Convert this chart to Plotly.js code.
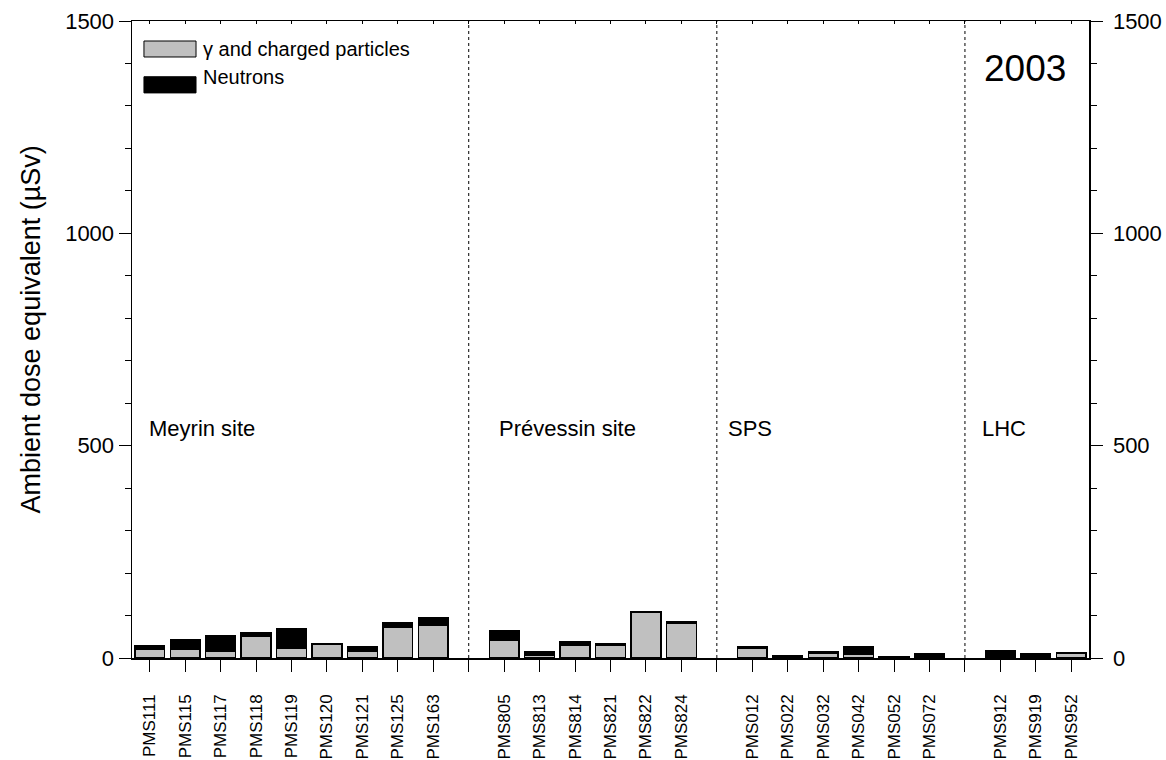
<!DOCTYPE html>
<html>
<head>
<meta charset="utf-8">
<script src="https://cdn.plot.ly/plotly-3.0.1.min.js"></script>
<style>html,body{margin:0;padding:0;background:#fff;}#chart{width:1166px;height:760px;}</style>
</head>
<body>
<div id="chart"></div>
<script>
// ---- data ----
var siteNames = ['Meyrin site', 'Prévessin site', 'SPS', 'LHC'];
var meyrinStations = ['PMS111','PMS115','PMS117','PMS118','PMS119','PMS120','PMS121','PMS125','PMS163'];
var meyrinGamma    = [20, 20, 15, 52, 24, 32, 15, 73, 77];
var meyrinNeutron  = [10, 23, 38, 8, 45, 1.5, 12, 9, 18];
var prevessinStations = ['PMS805','PMS813','PMS814','PMS821','PMS822','PMS824'];
var prevessinGamma    = [41, 6, 30, 29, 108, 82];
var prevessinNeutron  = [23, 9, 8, 4, 2, 3];
var spsStations = ['PMS012','PMS022','PMS032','PMS042','PMS052','PMS072'];
var spsGamma    = [24, 4, 11, 8, 0, 0];
var spsNeutron  = [3, 2, 3, 19, 3, 11];
var lhcStations = ['PMS912','PMS919','PMS952'];
var lhcGamma    = [0, 0, 11];
var lhcNeutron  = [17, 9, 1];
var yearLabel = '2003';
var gammaName = 'γ and charged particles';
var neutronName = 'Neutrons';

// ---- build positions (one empty slot between sites holds the divider) ----
var groups = [
  {st: meyrinStations, g: meyrinGamma, n: meyrinNeutron},
  {st: prevessinStations, g: prevessinGamma, n: prevessinNeutron},
  {st: spsStations, g: spsGamma, n: spsNeutron},
  {st: lhcStations, g: lhcGamma, n: lhcNeutron}
];
var xs = [], gammaVals = [], neutronVals = [], tickvals = [], ticktext = [], dividers = [], groupStart = [];
var pos = 1;
groups.forEach(function (grp, gi) {
  groupStart.push(pos);
  grp.st.forEach(function (s, i) {
    xs.push(pos); gammaVals.push(grp.g[i]); neutronVals.push(grp.n[i]);
    tickvals.push(pos); ticktext.push(s);
    pos++;
  });
  if (gi < groups.length - 1) {
    dividers.push(pos); tickvals.push(pos); ticktext.push('');
    pos++;
  }
});
var xRange = [0.5, pos - 0.5];
var yRange = [0, 1500];

var FONT = 'Liberation Sans, Arial, Helvetica, sans-serif';

var traces = [
  {type: 'bar', x: xs, y: gammaVals, name: gammaName, width: 0.84,
   marker: {color: '#c0c0c0', line: {color: '#000', width: 1.5}},
   showlegend: false, hoverinfo: 'x+y'},
  {type: 'bar', x: xs, y: neutronVals, name: neutronName, width: 0.84,
   marker: {color: '#000', line: {color: '#000', width: 1.5}},
   showlegend: false, hoverinfo: 'x+y'},
  {type: 'scatter', x: [xs[0]], y: [0], xaxis: 'x2', yaxis: 'y2', mode: 'markers',
   marker: {opacity: 0}, showlegend: false, hoverinfo: 'skip'}
];

var shapes = dividers.map(function (d) {
  return {type: 'line', xref: 'x', yref: 'paper', x0: d, x1: d, y0: 0, y1: 1,
          line: {color: '#000', width: 1, dash: 'dot'}};
});
// legend swatches
shapes.push({type: 'rect', xref: 'paper', yref: 'paper', x0: 0.0125, x1: 0.0669, y0: 0.9435, y1: 0.9686,
             fillcolor: '#c0c0c0', line: {color: '#000', width: 1}});
shapes.push({type: 'rect', xref: 'paper', yref: 'paper', x0: 0.0125, x1: 0.0669, y0: 0.8871, y1: 0.9125,
             fillcolor: '#000', line: {color: '#000', width: 1}});

var siteOffsets = [-0.08, -0.2, -0.74, -0.57];
var annotations = siteNames.map(function (nm, i) {
  return {text: nm, xref: 'x', yref: 'y', x: groupStart[i] + siteOffsets[i], y: 540,
          xanchor: 'left', yanchor: 'middle', showarrow: false,
          font: {family: FONT, size: 22, color: '#000'}};
});
annotations.push({text: gammaName, xref: 'paper', yref: 'paper', x: 0.0720, y: 0.9561,
                  xanchor: 'left', yanchor: 'middle', showarrow: false,
                  font: {family: FONT, size: 20, color: '#000'}});
annotations.push({text: neutronName, xref: 'paper', yref: 'paper', x: 0.0720, y: 0.9119,
                  xanchor: 'left', yanchor: 'middle', showarrow: false,
                  font: {family: FONT, size: 20, color: '#000'}});
annotations.push({text: yearLabel, xref: 'paper', yref: 'paper', x: 0.933, y: 0.926,
                  xanchor: 'center', yanchor: 'middle', showarrow: false,
                  font: {family: FONT, size: 37, color: '#000'}});
annotations.push({text: 'Ambient dose equivalent (µSv)', xref: 'paper', yref: 'paper', x: 0, y: 0.5,
                  xshift: -102, yshift: 10, textangle: -90, xanchor: 'center', yanchor: 'middle', showarrow: false,
                  font: {family: FONT, size: 27, color: '#000'}});

var yCommon = {
  range: yRange, dtick: 500, tick0: 0, ticks: 'outside', ticklen: 12, tickwidth: 1, tickcolor: '#000',
  minor: {dtick: 100, ticks: 'outside', ticklen: 6, tickwidth: 1, tickcolor: '#000', showgrid: false},
  showline: true, linecolor: '#000', linewidth: 1.5, showgrid: false, zeroline: false,
  tickfont: {family: FONT, size: 22, color: '#000'}, fixedrange: true
};

var layout = {
  width: 1166, height: 760,
  margin: {l: 132, r: 77, t: 21, b: 102, pad: 0},
  paper_bgcolor: '#fff', plot_bgcolor: '#fff',
  barmode: 'stack', bargap: 0,
  showlegend: false,
  font: {family: FONT, color: '#000'},
  xaxis: {
    range: xRange, tickmode: 'array', tickvals: tickvals, ticktext: ticktext, tickangle: -90,
    ticks: 'outside', ticklen: 12, tickwidth: 1, tickcolor: '#000', ticklabelstandoff: 16,
    showline: true, linecolor: '#000', linewidth: 1.5, mirror: true, showgrid: false, zeroline: false,
    tickfont: {family: FONT, size: 17, color: '#000'}, fixedrange: true
  },
  xaxis2: {
    range: xRange, overlaying: 'x', side: 'top', anchor: 'y2', tickmode: 'array', tickvals: tickvals,
    ticks: 'inside', ticklen: 3, tickwidth: 1, tickcolor: '#000', showticklabels: false,
    showline: false, showgrid: false, zeroline: false, fixedrange: true
  },
  yaxis: Object.assign({}, yCommon, {side: 'left'}),
  yaxis2: Object.assign({}, yCommon, {side: 'right', overlaying: 'y', anchor: 'x', ticklabelstandoff: 6}),
  shapes: shapes,
  annotations: annotations
};

Plotly.newPlot('chart', traces, layout, {displayModeBar: false, staticPlot: true});
</script>
</body>
</html>
